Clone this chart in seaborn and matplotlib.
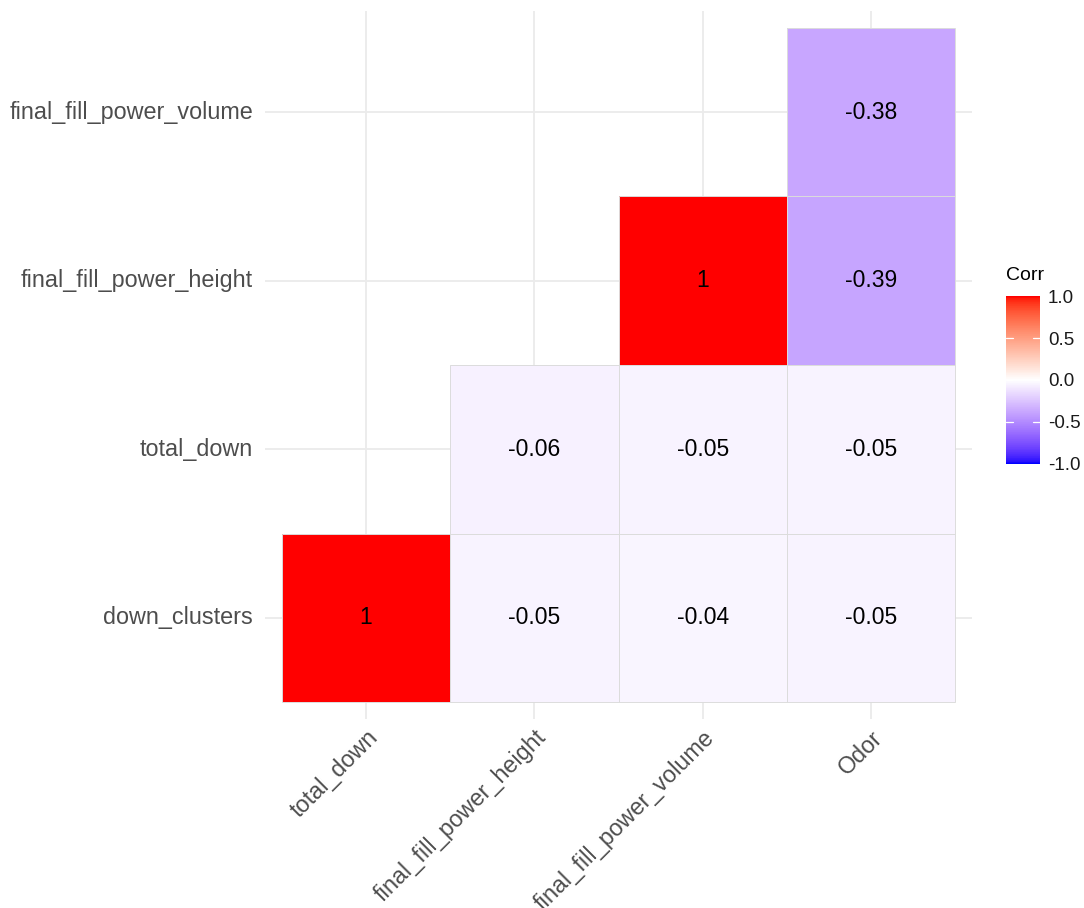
import numpy as np
import pandas as pd
import matplotlib
matplotlib.use("Agg")
import matplotlib.pyplot as plt
from matplotlib.colors import ListedColormap
from matplotlib.patches import Rectangle
import seaborn as sns

# Variables on each axis
row_vars = ["down_clusters", "total_down", "final_fill_power_height", "final_fill_power_volume"]
col_vars = ["total_down", "final_fill_power_height", "final_fill_power_volume", "Odor"]

# Correlations, one list per row (None = hidden upper part)
corr_down_clusters = [1.00, -0.05, -0.04, -0.05]
corr_total_down = [None, -0.06, -0.05, -0.05]
corr_ffp_height = [None, None, 1.00, -0.39]
corr_ffp_volume = [None, None, None, -0.38]

legend_ticks = [-1.0, -0.5, 0.0, 0.5, 1.0]


def srgb_to_lab(rgb):
    rgb = np.asarray(rgb, float)
    lin = np.where(rgb <= 0.04045, rgb / 12.92, ((rgb + 0.055) / 1.055) ** 2.4)
    M = np.array([[0.4124, 0.3576, 0.1805],
                  [0.2126, 0.7152, 0.0722],
                  [0.0193, 0.1192, 0.9505]])
    xyz = M @ lin
    xyz = xyz / np.array([0.95047, 1.0, 1.08883])
    f = np.where(xyz > 0.008856, np.cbrt(xyz), 7.787 * xyz + 16 / 116)
    return np.array([116 * f[1] - 16, 500 * (f[0] - f[1]), 200 * (f[1] - f[2])])


def lab_to_srgb(lab):
    L, a, b = lab
    fy = (L + 16) / 116
    fx = fy + a / 500
    fz = fy - b / 200
    f = np.array([fx, fy, fz])
    xyz = np.where(f ** 3 > 0.008856, f ** 3, (f - 16 / 116) / 7.787)
    xyz = xyz * np.array([0.95047, 1.0, 1.08883])
    Minv = np.array([[3.2406, -1.5372, -0.4986],
                     [-0.9689, 1.8758, 0.0415],
                     [0.0557, -0.2040, 1.0570]])
    lin = Minv @ xyz
    lin = np.clip(lin, 0, 1)
    rgb = np.where(lin <= 0.0031308, 12.92 * lin, 1.055 * lin ** (1 / 2.4) - 0.055)
    return np.clip(rgb, 0, 1)


def diverging_lab(low, mid, high, n=256):
    lo, mi, hi = (srgb_to_lab(c) for c in (low, mid, high))
    cols = []
    for t in np.linspace(0, 1, n):
        if t < 0.5:
            lab = lo + (mi - lo) * (t / 0.5)
        else:
            lab = mi + (hi - mi) * ((t - 0.5) / 0.5)
        cols.append(lab_to_srgb(lab))
    return ListedColormap(cols)


cmap = diverging_lab((0, 0, 1), (1, 1, 1), (1, 0, 0))

rows = [corr_down_clusters, corr_total_down, corr_ffp_height, corr_ffp_volume]
mat = pd.DataFrame([[np.nan if v is None else v for v in r] for r in rows],
                   index=row_vars, columns=col_vars)
# heatmap draws the first row at the top; put down_clusters at the bottom
mat = mat.iloc[::-1]
annot = mat.map(lambda v: "" if pd.isna(v) else f"{v:g}")

sns.set_theme(style="white")
plt.rcParams["font.family"] = ["Liberation Sans", "DejaVu Sans"]

fig = plt.figure(figsize=(10.84, 9.08), dpi=100)
ax = fig.add_axes([0.2445, 0.208, 0.6522, 0.780])
cax = fig.add_axes([0.9285, 0.4895, 0.0305, 0.184])

sns.heatmap(mat, ax=ax, cmap=cmap, vmin=-1, vmax=1, mask=mat.isna(),
            annot=annot, fmt="", annot_kws={"size": 16.5, "color": "black"},
            linewidths=0, square=False,
            cbar_ax=cax, cbar_kws={"ticks": legend_ticks})

# thin grey outline around each visible tile
vals = mat.to_numpy()
for r in range(vals.shape[0]):
    for c in range(vals.shape[1]):
        if not np.isnan(vals[r, c]):
            ax.add_patch(Rectangle((c, r), 1, 1, fill=False, edgecolor="#dcdcdc",
                                   lw=0.7, zorder=3))

# background grid through the cell centres, behind the tiles
ax.set_axisbelow(True)
for i in range(4):
    ax.axvline(i + 0.5, color="#ebebeb", lw=1.3, zorder=0)
    ax.axhline(i + 0.5, color="#ebebeb", lw=1.3, zorder=0)
ax.set_xlim(-0.1, 4.1)
ax.set_ylim(4.1, -0.1)
for s in ax.spines.values():
    s.set_visible(False)

ax.set_xlabel("")
ax.set_ylabel("")
ax.set_xticks(np.arange(4) + 0.5)
ax.set_yticks(np.arange(4) + 0.5)
ax.set_xticklabels(col_vars, rotation=45, ha="right", rotation_mode="anchor",
                   fontsize=16.8, color="#4d4d4d")
ax.set_yticklabels(mat.index, rotation=0, fontsize=16.8, color="#4d4d4d")
ax.tick_params(axis="y", length=0, pad=8.5)
ax.tick_params(axis="x", length=0, pad=5)

# colourbar styling
cb = ax.collections[0].colorbar
cb.outline.set_visible(False)
cax.tick_params(length=0, labelsize=13.5, colors="#1a1a1a", pad=6)
cax.set_yticklabels([f"{t:.1f}" for t in legend_ticks])
for t in legend_ticks[1:-1]:
    cax.plot([0, 0.2], [t, t], color="white", lw=0.9, transform=cax.get_yaxis_transform())
    cax.plot([0.8, 1], [t, t], color="white", lw=0.9, transform=cax.get_yaxis_transform())
cax.set_title("Corr", loc="left", fontsize=14, color="black", pad=12)

fig.savefig("out.png", dpi=100)
